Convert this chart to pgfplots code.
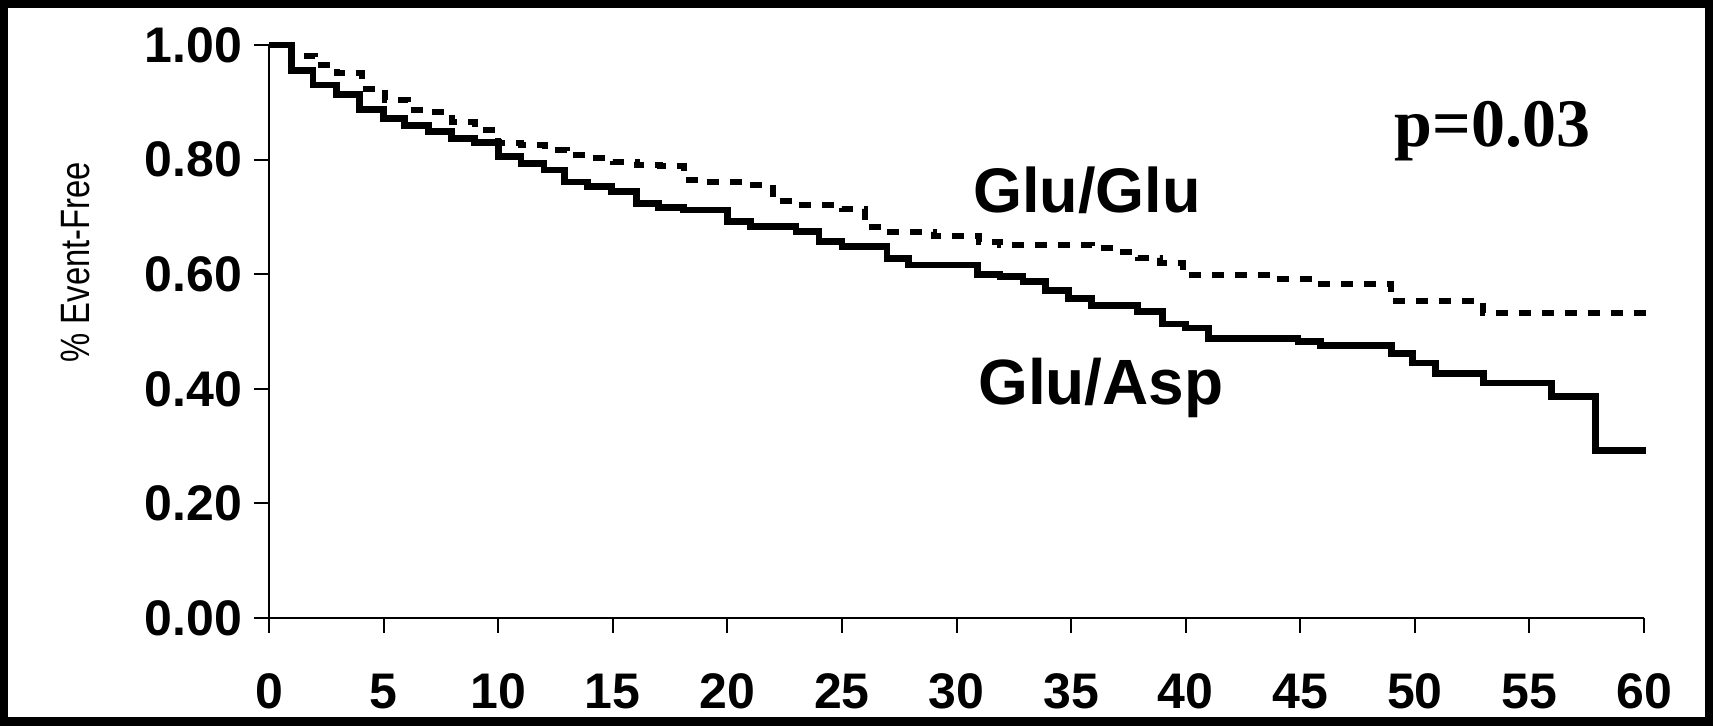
\documentclass[border=0pt]{standalone}
\usepackage{fontspec}
\setmainfont{Liberation Sans}
\newfontfamily\timesfont{Liberation Serif}
\usepackage{graphicx}
\usepackage{pgfplots}
\pgfplotsset{compat=1.18}
\begin{document}
\begin{tikzpicture}
\useasboundingbox (0,0) rectangle (856.5pt,363pt);
\fill[black] (0,0) rectangle (856.5pt,363pt);
\fill[white] (4pt,4.5pt) rectangle (852.5pt,359pt);
\begin{axis}[
  at={(134.5pt,54pt)}, anchor=south west,
  scale only axis, width=687.5pt, height=286.5pt,
  xmin=0, xmax=60, ymin=0, ymax=1,
  axis x line*=bottom, axis y line*=left,
  axis line style={line width=1pt},
  tick align=outside, major tick length=7.5pt,
  tick style={line width=1pt, black},
  xtick={0,5,...,60},
  xticklabels={0,5,10,15,20,25,30,35,40,45,50,55,60},
  ytick={0,0.2,0.4,0.6,0.8,1},
  yticklabels={0.00,0.20,0.40,0.60,0.80,1.00},
  ticklabel style={font=\fontsize{25}{29}\selectfont\bfseries},
  xticklabel style={yshift=-17pt},
  yticklabel style={xshift=-2.5pt},
  clip=false,
]
\addplot[const plot, line width=3.4pt, black] coordinates {
(0,1.00) (0.98,0.956) (1.92,0.930) (2.94,0.913) (3.96,0.887) (4.98,0.872)
(5.93,0.860) (6.95,0.849) (7.97,0.837) (8.95,0.830) (10.0,0.805) (11.0,0.793)
(12.0,0.782) (12.9,0.761) (13.9,0.753) (14.96,0.744) (16.05,0.723) (17.0,0.716)
(18.1,0.712) (19.99,0.692) (21.0,0.683) (23.0,0.674) (24.0,0.657) (25.0,0.648)
(26.97,0.628) (27.9,0.616) (30.9,0.599) (31.9,0.596) (32.9,0.587) (33.9,0.572)
(34.9,0.558) (35.9,0.546) (37.9,0.535) (39.0,0.513) (40.0,0.506) (41.0,0.488)
(44.9,0.482) (45.9,0.475) (48.97,0.462) (49.9,0.445) (50.9,0.427) (52.98,0.410)
(55.96,0.386) (57.9,0.293) (60.1,0.293)
};
\addplot[const plot, line width=3pt, black, dash pattern=on 6pt off 5.5pt] coordinates {
(0,1.00) (0.98,0.980) (2.0,0.965) (2.98,0.951) (4.04,0.924) (5.06,0.904)
(6.07,0.887) (7.0,0.883) (7.97,0.866) (8.99,0.852) (10.0,0.829) (11.0,0.825)
(12.05,0.817) (13.0,0.808) (14.0,0.802) (15.0,0.796) (16.05,0.791) (17.07,0.788)
(18.1,0.764) (19.1,0.761) (20.9,0.756) (22.0,0.727) (23.0,0.721) (25.0,0.713)
(26.0,0.683) (26.97,0.674) (29.0,0.666) (31.0,0.657) (31.9,0.651) (35.9,0.645)
(36.95,0.639) (37.9,0.628) (38.9,0.619) (39.9,0.599) (43.9,0.591) (45.9,0.583)
(48.97,0.554) (52.98,0.532) (60.2,0.532)
};
\node[anchor=base, font=\fontsize{31.5}{36}\selectfont\bfseries] at (axis cs:35.7,0.707) {Glu/Glu};
\node[anchor=base, font=\fontsize{32}{36}\selectfont\bfseries] at (axis cs:36.3,0.373) {Glu/Asp};
\node[anchor=base, font=\fontsize{34}{38}\selectfont\timesfont\bfseries] at (axis cs:53.4,0.822) {p=0.03};
\node[rotate=90, font=\fontsize{20.5}{24}\selectfont] at (axis cs:-8.45,0.621) {\scalebox{0.8}[1]{\% Event-Free}};
\end{axis}
\end{tikzpicture}
\end{document}
